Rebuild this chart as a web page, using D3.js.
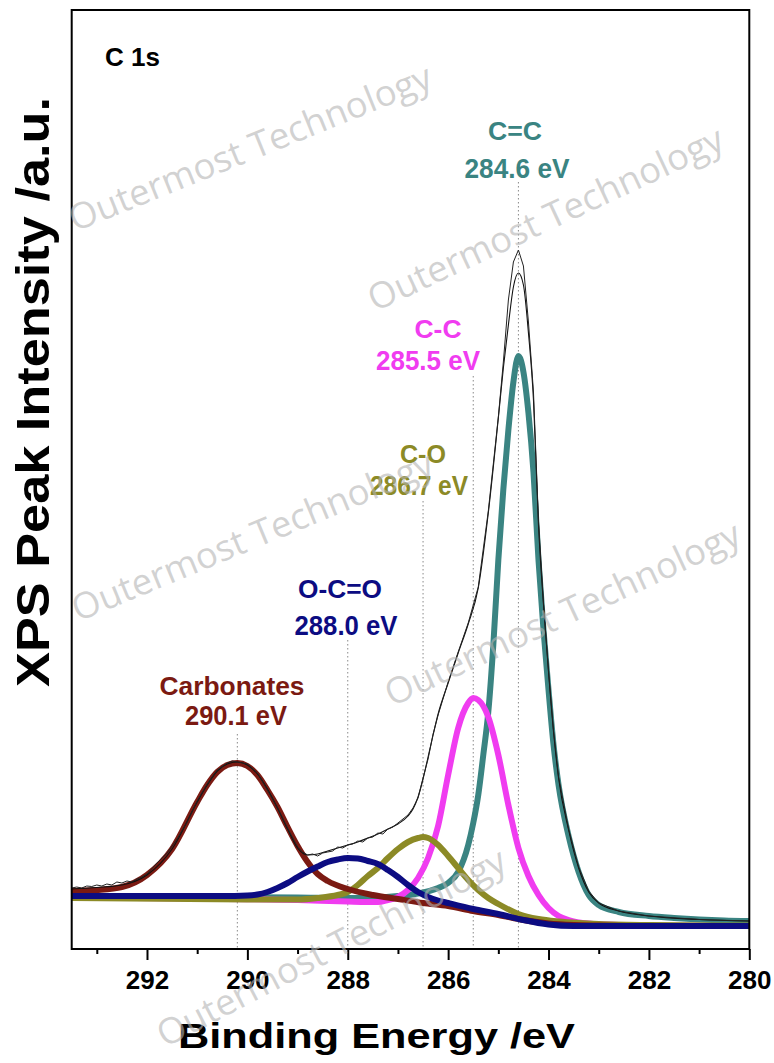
<!DOCTYPE html>
<html>
<head>
<meta charset="utf-8">
<script src="https://cdn.jsdelivr.net/npm/d3@7"></script>
<style>
  body { margin: 0; background: #fff; }
  svg { display: block; }
  text { font-style: normal; }
</style>
</head>
<body>
<svg id="chart" width="774" height="1063"></svg>
<script>
// ---- data (binding energy eV, intensity a.u.) ----
const majorTicks = [292, 290, 288, 286, 284, 282, 280];
const minorTicks = [293, 291, 289, 287, 285, 283, 281];

const carbonates = [[293.5,58],[293,59],[292.5,62],[292,74],[291.5,100],[291,147],[290.8,164],[290.6,177],
  [290.4,184],[290.2,186],[290,183],[289.8,174],[289.6,159],[289.4,142],[289.2,122],[289,103],[288.8,87],
  [288.6,75],[288.4,68],[288,60],[287.5,54],[287,50],[286.5,46],[286,43],[285.5,38],[285,34],[284.5,29],
  [284,25.5],[283.5,24],[283,23.5],[282,23],[280,23]];

const ocoGroup = [[293.5,53],[292,53],[290.5,53],[290,53.5],[289.8,54.5],[289.6,57],[289.4,61],[289.2,66],
  [289,72],[288.8,77.5],[288.6,82.5],[288.4,87],[288.2,89.5],[288,91],[287.8,90.5],[287.6,88],[287.4,85],
  [287.2,79],[287,72],[286.8,64],[286.6,57],[286.4,52],[286.2,48.5],[286,46],[285.5,40],[285,35],[284.5,29],
  [284,24.5],[283.5,23],[280,23]];

const coGroup = [[293.5,51],[290,49.5],[289,49.5],[288.6,51],[288.2,54],[288,57],[287.8,64],[287.6,73],
  [287.4,81],[287.2,91],[287,100],[286.8,107],[286.6,111],[286.5,112],[286.4,111],[286.2,104],[286,93],
  [285.8,81],[285.6,69],[285.4,59],[285.2,51],[285,45],[284.6,35],[284.2,30],[283.8,27.5],[283.4,26],
  [283,25],[282,24],[280,23.5]];

const ccGroup = [[293.5,51.5],[291,50.5],[289,49],[288,47.5],[287.4,47],[287.2,49],[287,52],[286.8,59],
  [286.6,71],[286.4,91],[286.2,123],[286,174],[285.8,221],[285.6,246],[285.5,251],[285.4,249],[285.2,232],
  [285,194],[284.8,144],[284.6,101],[284.4,73],[284.2,54],[284,41],[283.8,33],[283.6,29],[283.2,25.5],
  [282.6,24],[282,23.5],[280,23]];

const cdcGroup = [[293.5,52.5],[291,52],[289,51.5],[288,51],[287.4,51.5],[287,53],[286.6,55.5],[286.2,61],
  [286,66],[285.8,77],[285.6,104],[285.5,126],[285.4,154],[285.3,194],[285.2,237],[285.1,304],[285,389],
  [284.9,460],[284.8,519],[284.7,567],[284.6,593],[284.5,577],[284.4,536],[284.3,477],[284.2,389],
  [284.1,319],[284,259],[283.9,204],[283.8,164],[283.6,113],[283.4,77],[283.2,54],[283,44],[282.6,37],
  [282,33],[281.5,31],[281,29.5],[280.5,28.5],[280,28]];

const envelope = [[293.5,60],[293,61.5],[292.5,64],[292,74],[291.5,100],[291,147],[290.8,164],[290.6,178],
  [290.4,185],[290.2,187],[290,184],[289.8,175],[289.6,160],[289.4,141],[289.2,120],[289,101],[288.8,94],
  [288.6,95],[288.4,98],[288.2,101],[288,104],[287.8,107],[287.6,111],[287.4,115],[287.2,120],[287,125],
  [286.8,133],[286.7,140],[286.6,152],[286.5,170],[286.4,192],[286.3,214],[286.2,235],[286,266],
  [285.8,296],[285.6,325],[285.4,361],[285.2,436],[285,531],[284.9,581],[284.8,624],[284.7,662],
  [284.6,676],[284.5,664],[284.4,616],[284.3,549],[284.2,424],[284.1,344],[284,277],[283.9,217],
  [283.8,171],[283.6,119],[283.4,81],[283.2,57],[283,46],[282.6,38],[282,33],[281,29.5],[280,28]];

const rawData = [[293.5,61],[293.4,62],[293.3,61],[293.2,63],[293.1,62.5],[293,64],[292.9,63],[292.8,65],
  [292.7,64],[292.6,67],[292.5,66],[292.4,68],[292.3,67],[292.2,70],[292.1,72],[292,75],[291.8,86],
  [291.6,96],[291.4,110],[291.2,127],[291,148],[290.8,165],[290.6,179],[290.4,186],[290.3,188],[290.2,187],
  [290,185],[289.8,176],[289.6,159],[289.4,141],[289.2,121],[289,102],[288.9,97],[288.8,94],[288.7,95],
  [288.6,93],[288.5,96],[288.4,97],[288.3,98],[288.2,102],[288.1,101],[288,104],[287.9,105],[287.8,108],
  [287.7,107],[287.6,111],[287.5,112],[287.4,116],[287.3,115],[287.2,120],[287.1,122],[287,126],
  [286.8,134],[286.7,141],[286.6,151],[286.5,171],[286.4,190],[286.3,215],[286.2,234],[286,267],
  [285.8,297],[285.6,326],[285.4,362],[285.2,438],[285,532],[284.9,587],[284.8,649],[284.7,687],
  [284.6,699],[284.5,683],[284.4,627],[284.3,557],[284.2,428],[284.1,346],[284,278],[283.9,218],
  [283.8,172],[283.6,120],[283.4,82],[283.2,58],[283,46],[282.6,38],[282,33],[281,29.5],[280,28]];

const peakNames  = ["Carbonates", "O-C=O", "C-O", "C-C", "C=C"];
const peakTexts  = ["290.1 eV", "288.0 eV", "286.7 eV", "285.5 eV", "284.6 eV"];
const peakCenters = [290.2, 288.0, 286.5, 285.5, 284.6];
const peakSeries = [carbonates, ocoGroup, coGroup, ccGroup, cdcGroup];
const peakColors = ["#7b1a12", "#0c0c82", "#8c8a26", "#f03cf0", "#3a8482"];

// label layout (pixels)
const labelLayout = [
  {nx: 232, ny: 695, nw: 145, vx: 236, vy: 725, vw: 102, top: 734},
  {nx: 340, ny: 598, nw: 84,  vx: 346, vy: 635, vw: 103, top: 640},
  {nx: 423, ny: 463, nw: 46,  vx: 419, vy: 495, vw: 98,  top: 501},
  {nx: 438, ny: 338, nw: 47,  vx: 428, vy: 370, vw: 104, top: 376},
  {nx: 515, ny: 140, nw: 54,  vx: 517, vy: 178, vw: 105, top: 182}
];

const watermarks = [
  {x: 75,  y: 232,  a: -22},
  {x: 375, y: 312,  a: -25},
  {x: 78,  y: 622,  a: -22.5},
  {x: 392, y: 707,  a: -25},
  {x: 165, y: 1048, a: -27.5}
];

// ---- layout ----
const plotLeft = 71.7, plotRight = 749.3, plotTop = 10, plotBottom = 949;
const svg = d3.select("#chart");

const x = d3.scaleLinear().domain([293.5, 280]).range([plotLeft, plotRight]);
const y = d3.scaleLinear().domain([0, 939]).range([plotBottom, plotTop]);

const line = d3.line()
  .x(d => x(d[0]))
  .y(d => y(d[1]))
  .curve(d3.curveMonotoneX);

const bold = "'Liberation Sans', Arial, Helvetica, sans-serif";

// dotted guide lines
svg.append("g").selectAll("line")
  .data(peakCenters).enter()
  .append("line")
  .attr("x1", d => x(d)).attr("x2", d => x(d))
  .attr("y1", (d, i) => labelLayout[i].top)
  .attr("y2", plotBottom)
  .attr("stroke", "#8a8a8a")
  .attr("stroke-width", 1)
  .attr("stroke-dasharray", "1.5,2.5");

// component curves: teal first, blue on top
const drawOrder = [4, 3, 2, 0, 1];
svg.append("g").selectAll("path")
  .data(drawOrder).enter()
  .append("path")
  .attr("d", i => line(peakSeries[i]))
  .attr("fill", "none")
  .attr("stroke", i => peakColors[i])
  .attr("stroke-width", 6)
  .attr("stroke-linejoin", "round");

// envelope + raw data
svg.append("path")
  .attr("d", line(envelope))
  .attr("fill", "none").attr("stroke", "#111").attr("stroke-width", 1.1);
svg.append("path")
  .attr("d", d3.line().x(d => x(d[0])).y(d => y(d[1])).curve(d3.curveLinear)(rawData))
  .attr("fill", "none").attr("stroke", "#222").attr("stroke-width", 1);

// frame
svg.append("rect")
  .attr("x", plotLeft).attr("y", plotTop)
  .attr("width", plotRight - plotLeft).attr("height", plotBottom - plotTop)
  .attr("fill", "none").attr("stroke", "#000").attr("stroke-width", 2);

// x axis
const xAxis = d3.axisBottom(x).tickValues(majorTicks).tickSize(11).tickPadding(5).tickFormat(d3.format("d"));
const gx = svg.append("g").attr("transform", `translate(0,${plotBottom})`).call(xAxis);
gx.select(".domain").remove();
gx.selectAll(".tick line").attr("stroke-width", 2);
gx.selectAll(".tick text")
  .attr("font-family", bold).attr("font-weight", "bold").attr("font-size", 26)
  .attr("fill", "#000").attr("dy", null).attr("y", 40);

const gm = svg.append("g").attr("transform", `translate(0,${plotBottom})`)
  .call(d3.axisBottom(x).tickValues(minorTicks).tickSize(5).tickFormat(""));
gm.select(".domain").remove();
gm.selectAll(".tick line").attr("stroke-width", 2);

// axis titles
svg.append("text")
  .attr("x", 376.5).attr("y", 1048)
  .attr("text-anchor", "middle")
  .attr("font-family", bold).attr("font-weight", "bold").attr("font-size", 35)
  .attr("textLength", 397).attr("lengthAdjust", "spacingAndGlyphs")
  .text("Binding Energy /eV");

svg.append("text")
  .attr("transform", "translate(49,392) rotate(-90)")
  .attr("text-anchor", "middle")
  .attr("font-family", bold).attr("font-weight", "bold").attr("font-size", 46)
  .attr("textLength", 590).attr("lengthAdjust", "spacingAndGlyphs")
  .text("XPS Peak Intensity /a.u.");

svg.append("text")
  .attr("x", 105).attr("y", 66)
  .attr("font-family", bold).attr("font-weight", "bold").attr("font-size", 26)
  .text("C 1s");

// peak labels
const lab = svg.append("g")
  .attr("font-family", bold).attr("font-weight", "bold").attr("text-anchor", "middle");
lab.selectAll("text.name")
  .data(peakNames).enter()
  .append("text").attr("class", "name")
  .attr("x", (d, i) => labelLayout[i].nx)
  .attr("y", (d, i) => labelLayout[i].ny)
  .attr("font-size", 26)
  .attr("textLength", (d, i) => labelLayout[i].nw).attr("lengthAdjust", "spacingAndGlyphs")
  .attr("fill", (d, i) => peakColors[i])
  .text(d => d);
lab.selectAll("text.val")
  .data(peakTexts).enter()
  .append("text").attr("class", "val")
  .attr("x", (d, i) => labelLayout[i].vx)
  .attr("y", (d, i) => labelLayout[i].vy)
  .attr("font-size", 28)
  .attr("textLength", (d, i) => labelLayout[i].vw).attr("lengthAdjust", "spacingAndGlyphs")
  .attr("fill", (d, i) => peakColors[i])
  .text(d => d);

// watermark
svg.append("g").selectAll("text")
  .data(watermarks).enter()
  .append("text")
  .attr("transform", d => `translate(${d.x},${d.y}) rotate(${d.a})`)
  .attr("font-family", "'Open Sans', 'Noto Sans', sans-serif")
  .attr("font-size", 36)
  .attr("textLength", 388).attr("lengthAdjust", "spacingAndGlyphs")
  .attr("fill", "#b4b4b4").attr("fill-opacity", 0.6)
  .text("Outermost Technology");
</script>
</body>
</html>
